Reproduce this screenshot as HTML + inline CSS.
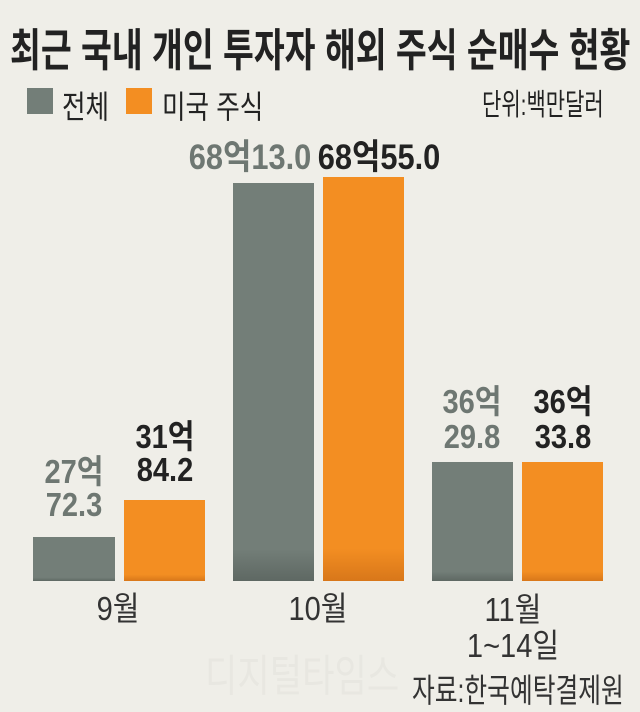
<!DOCTYPE html>
<html><head><meta charset="utf-8"><style>
body{margin:0;width:640px;height:708px;background:#efeee8;position:relative;overflow:hidden;font-family:"Liberation Sans","Noto Sans CJK KR",sans-serif}
.t{position:absolute;white-space:nowrap;transform-origin:left top}
.c{position:absolute;white-space:nowrap;text-align:center;transform:translateX(-50%) scaleX(0.88);line-height:1}
.b{position:absolute}
.g{background:linear-gradient(#737e78 92%,#5e6863)}
.o{background:linear-gradient(#f38e22 92%,#d8771a)}
</style></head><body>
<div class="t" style="left:10px;top:14px;font-size:45px;font-weight:bold;color:#222;transform:scaleX(0.745)">최근 국내 개인 투자자 해외 주식 순매수 현황</div>
<div class="b" style="left:27px;top:88px;width:26px;height:26px;background:#737e78"></div>
<div class="t" style="left:62px;top:82px;font-size:32px;color:#222;transform:scaleX(0.8)">전체</div>
<div class="b" style="left:126px;top:88px;width:26px;height:26px;background:#f38e22"></div>
<div class="t" style="left:162px;top:82px;font-size:32px;color:#222;transform:scaleX(0.8)">미국 주식</div>
<div class="t" style="left:482px;top:80px;font-size:30px;color:#222;transform:scaleX(0.7)">단위:백만달러</div>

<div class="b g" style="left:33px;top:537px;width:82px;height:44px"></div>
<div class="b o" style="left:124px;top:500px;width:81px;height:81px"></div>
<div class="b g" style="left:233px;top:183px;width:81px;height:398px"></div>
<div class="b o" style="left:323px;top:177px;width:81px;height:404px"></div>
<div class="b g" style="left:432px;top:462px;width:81px;height:119px"></div>
<div class="b o" style="left:522px;top:462px;width:81px;height:119px"></div>

<div class="c" style="left:74px;top:455px;font-size:33px;color:#6e7772;font-weight:bold">27억<br>72.3</div>
<div class="c" style="left:165px;top:420px;font-size:33px;color:#222;font-weight:bold">31억<br>84.2</div>
<div class="c" style="left:250px;top:140px;font-size:35px;color:#6e7772;font-weight:bold">68억13.0</div>
<div class="c" style="left:379px;top:140px;font-size:35px;color:#222;font-weight:bold">68억55.0</div>
<div class="c" style="left:472px;top:385px;font-size:33px;color:#6e7772;font-weight:bold;line-height:1.05">36억<br>29.8</div>
<div class="c" style="left:563px;top:385px;font-size:33px;color:#222;font-weight:bold;line-height:1.05">36억<br>33.8</div>

<div class="c" style="left:118px;top:592px;font-size:33px;color:#333">9월</div>
<div class="c" style="left:318px;top:592px;font-size:33px;color:#333">10월</div>
<div class="c" style="left:513px;top:592px;font-size:33px;color:#333;line-height:1.08">11월<br>1~14일</div>
<div class="t" style="left:205px;top:640px;font-size:44px;color:#e8e7e1;transform:scaleX(0.8)">디지털타임스</div>
<div class="t" style="left:412px;top:664px;font-size:33px;color:#333;transform:scaleX(0.75)">자료:한국예탁결제원</div>
</body></html>
